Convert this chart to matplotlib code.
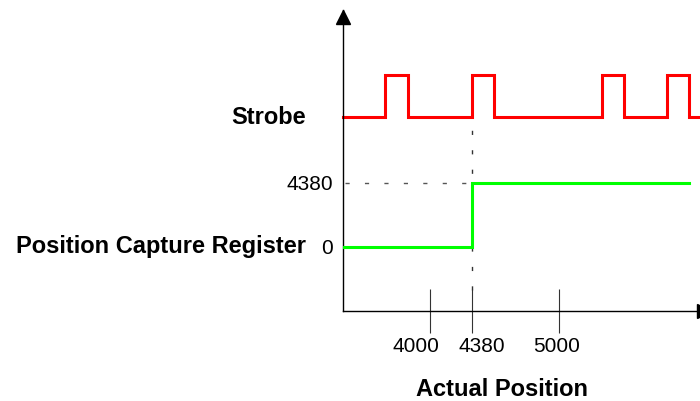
import matplotlib.pyplot as plt
import matplotlib.transforms as mtransforms

plt.rcParams['font.family'] = ['Liberation Sans', 'DejaVu Sans']
plt.rcParams['lines.scale_dashes'] = False

# schematic x positions (diagram units) of strobe edges and register step
strobe_x = [0, 42, 65, 129, 151, 259, 281, 324, 346, 357]
strobe_lvl = [0, 1, 0, 1, 0, 1, 0, 1, 0, 0]
reg_x = [0, 129, 346]
reg_val = [0, 4380, 4380]

x_tick_pos = [87, 129, 216]
x_tick_labels = ['4000', '4380', '5000']
reg_tick_labels = ['0', '4380']

# vertical layout of the two traces
strobe_low, strobe_high = 194, 236.5
reg_low, reg_high = 64, 128
capture_x = 129

def reg_y(v):
    return reg_low + (reg_high - reg_low) * v / 4380

fig = plt.figure(figsize=(7, 4.01), dpi=100)
ax = fig.add_axes([343 / 700, 90 / 401, 357 / 700, 301 / 401])
ax.set_xlim(0, 357)
ax.set_ylim(0, 301)

for s in ['top', 'right']:
    ax.spines[s].set_visible(False)
for s in ['left', 'bottom']:
    ax.spines[s].set_linewidth(1.0)
    ax.spines[s].set_color('black')

# arrow heads
ax.plot(0, 294.5, marker='^', color='black', ms=9.4, clip_on=False)
ax.plot(361, 0, marker='>', color='black', ms=9.4, clip_on=False)

# strobe trace
sy = [strobe_low + (strobe_high - strobe_low) * l for l in strobe_lvl]
ax.plot(strobe_x, sy, drawstyle='steps-post', color='#ff0000', lw=2.2,
        clip_on=False, solid_joinstyle='miter')

# dashed guides
ax.plot([capture_x, capture_x], [21, strobe_low], color='#333333', lw=1.0,
        dashes=(3, 11), zorder=1)
ax.plot([2, capture_x], [reg_high, reg_high], color='#555555', lw=1.0,
        dashes=(3, 11), zorder=1)

# register trace
ax.plot(reg_x, [reg_y(v) for v in reg_val], drawstyle='steps-post',
        color='#00ff00', lw=2.2, solid_joinstyle='miter', zorder=3)

# ticks
ax.set_xticks(x_tick_pos)
ax.set_xticklabels(x_tick_labels, fontsize=15)
ax.tick_params(axis='x', direction='inout', length=31, width=0.8,
               color='#333333', pad=3)
# nudge crowded labels apart like the original drawing
for lab, dx in zip(ax.get_xticklabels(), [-14, 9.5, -2]):
    off = mtransforms.ScaledTranslation(dx / 100, 0, fig.dpi_scale_trans)
    lab.set_transform(lab.get_transform() + off)

ax.set_yticks([reg_y(0), reg_y(4380)])
ax.set_yticklabels(reg_tick_labels, fontsize=15)
ax.tick_params(axis='y', length=0, pad=7)

# row labels
ax.text(-37, 187, 'Strobe', ha='right', va='baseline', fontsize=17,
        fontweight='bold')
ax.text(-37, 58, 'Position Capture Register', ha='right', va='baseline',
        fontsize=17, fontweight='bold')

ax.set_xlabel('Actual Position', fontsize=17, fontweight='bold')
ax.xaxis.set_label_coords(159 / 357, -0.224)

fig.savefig('out.png', dpi=100)
